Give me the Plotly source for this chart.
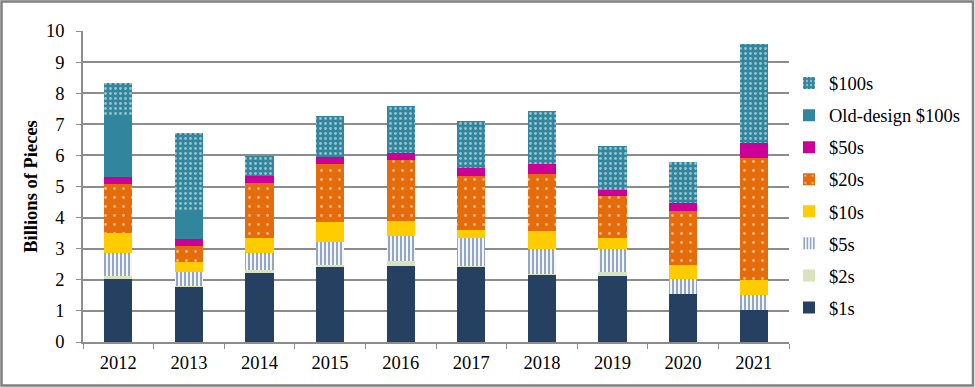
import plotly.graph_objects as go

years = ["2012", "2013", "2014", "2015", "2016", "2017", "2018", "2019", "2020", "2021"]
ones = [2.01, 1.78, 2.25, 2.43, 2.43, 2.43, 2.17, 2.11, 1.55, 1.02]
twos = [0.11, 0.02, 0.06, 0.05, 0.16, 0.01, 0.01, 0.14, 0.0, 0.0]
fives = [0.74, 0.45, 0.55, 0.74, 0.83, 0.90, 0.82, 0.74, 0.48, 0.50]
tens = [0.65, 0.32, 0.49, 0.64, 0.47, 0.27, 0.57, 0.34, 0.45, 0.46]
twenties = [1.56, 0.51, 1.75, 1.86, 1.95, 1.72, 1.82, 1.36, 1.72, 3.93]
fifties = [0.25, 0.24, 0.25, 0.24, 0.24, 0.26, 0.34, 0.19, 0.26, 0.49]
old_hundreds = [1.90, 0.88, 0, 0, 0, 0, 0, 0, 0, 0]
hundreds = [1.11, 2.51, 0.63, 1.30, 1.51, 1.52, 1.70, 1.43, 1.32, 3.19]

series = [
    ("$1s", ones, dict(color="#254061")),
    ("$2s", twos, dict(color="#D7E4BD")),
    ("$5s", fives, dict(color="#FFFFFF", pattern=dict(shape="|", bgcolor="#FFFFFF",
                                                      fgcolor="#27508A", size=4, solidity=0.55))),
    ("$10s", tens, dict(color="#FFCC00")),
    ("$20s", twenties, dict(color="#E46C0A", pattern=dict(shape=".", bgcolor="#E46C0A",
                                                          fgcolor="#FFFFFF", size=9, solidity=0.08))),
    ("$50s", fifties, dict(color="#CC0099")),
    ("Old-design $100s", old_hundreds, dict(color="#31859C")),
    ("$100s", hundreds, dict(color="#31859C", pattern=dict(shape=".", bgcolor="#31859C",
                                                           fgcolor="#FFFFFF", size=5, solidity=0.25))),
]

fig = go.Figure()
n = len(series)
for i, (name, vals, marker) in enumerate(series):
    marker = dict(marker)
    marker["line"] = dict(width=0)
    fig.add_trace(go.Bar(x=years, y=vals, name=name, marker=marker,
                         legendgroup=name, legendrank=n - i))

L, R, T, B = 83, 186, 31, 45
W, H = 975, 387
pw, ph = W - L - R, H - T - B

fig.update_layout(
    width=W, height=H, autosize=False,
    barmode="stack", bargap=0.6,
    margin=dict(l=L, r=R, t=T, b=B, autoexpand=False),
    paper_bgcolor="white", plot_bgcolor="white",
    font=dict(family="Liberation Serif, Times New Roman, serif", size=18.5, color="black"),
    showlegend=True,
    legend=dict(traceorder="grouped", tracegroupgap=5,
                x=1.0, xanchor="left", y=0.892, yanchor="top",
                font=dict(size=18.5), itemwidth=30),
    shapes=[dict(type="rect", xref="paper", yref="paper",
                 x0=(1.5 - L) / pw, x1=(973 - L) / pw,
                 y0=(H - B - 385.5) / ph, y1=(H - B - 1.5) / ph,
                 line=dict(color="#808080", width=2.5), fillcolor="rgba(0,0,0,0)", layer="above")],
)
fig.update_yaxes(range=[0, 10], dtick=1, showgrid=True, gridcolor="#8C8C8C", gridwidth=1.5,
                 showline=True, linecolor="#8C8C8C", linewidth=1.5,
                 ticks="outside", ticklen=5, tickcolor="#8C8C8C", ticklabelstandoff=8,
                 title=dict(text="<b>Billions of Pieces</b>", font=dict(size=18.5), standoff=4),
                 zeroline=False, automargin=False)
fig.update_xaxes(showline=True, linecolor="#8C8C8C", linewidth=1.5,
                 ticks="outside", tickson="boundaries", ticklen=5, tickcolor="#8C8C8C",
                 ticklabelstandoff=3, showgrid=False, automargin=False)

fig.write_html("out.html", config={"displayModeBar": False},
               post_script="document.body.style.margin='0px'; document.body.style.overflow='hidden';")
